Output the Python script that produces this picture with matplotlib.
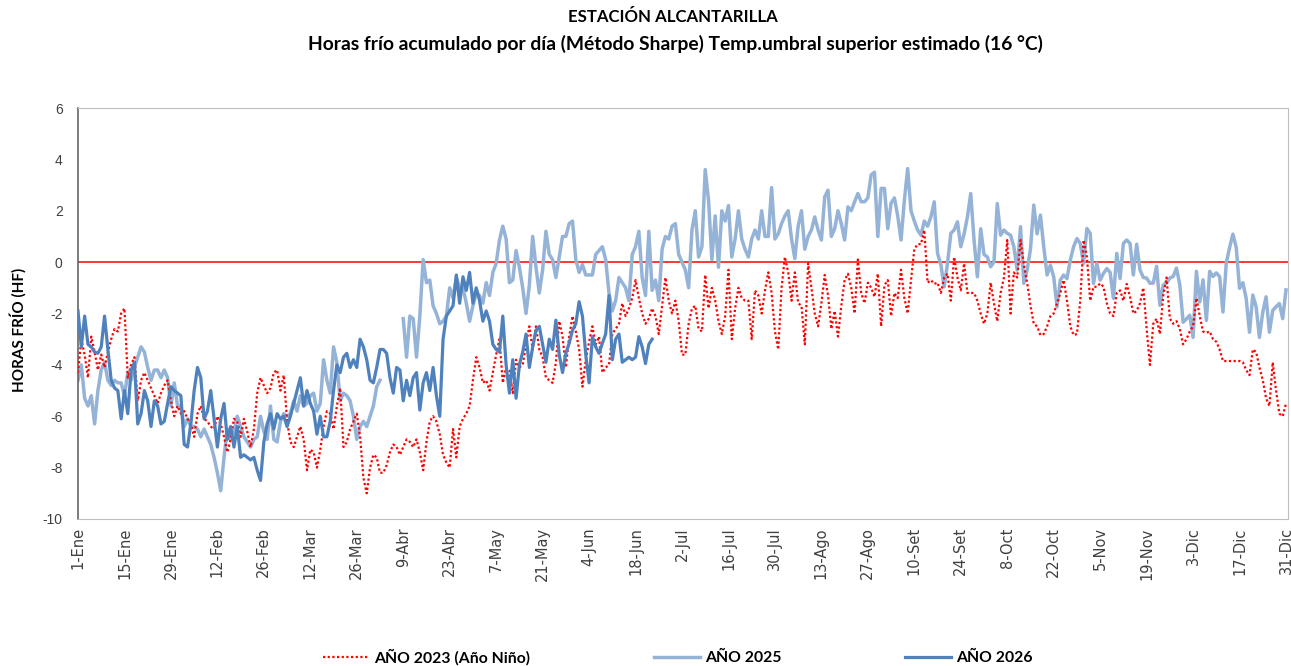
import numpy as np
import matplotlib
matplotlib.use("Agg")
import matplotlib.pyplot as plt

nan = np.nan

# ---------------- data ----------------
tick_labels = ["1-Ene", "15-Ene", "29-Ene", "12-Feb", "26-Feb", "12-Mar", "26-Mar",
               "9-Abr", "23-Abr", "7-May", "21-May", "4-Jun", "18-Jun", "2-Jul",
               "16-Jul", "30-Jul", "13-Ago", "27-Ago", "10-Set", "24-Set", "8-Oct",
               "22-Oct", "5-Nov", "19-Nov", "3-Dic", "17-Dic", "31-Dic"]
y_ticks = [6, 4, 2, 0, -2, -4, -6, -8, -10]

serie_2023 = [
    -4.3, -3.0, -3.6, -4.5, -2.9, -3.5, -4.2, -3.6, -4.1, -3.5,
    -3.0, -2.6, -2.7, -2.0, -1.8, -4.5, -4.0, -3.7, -5.4, -4.6,
    -4.3, -4.6, -4.9, -5.2, -5.5, -5.1, -4.8, -4.6, -5.4, -6.0,
    -5.6, -5.9, -5.8, -6.1, -6.3, -6.8, -5.9, -5.6, -6.1, -6.2,
    -6.4, -6.5, -6.0, -6.3, -6.8, -7.4, -6.9, -6.1, -6.2, -6.8,
    -6.1, -6.6, -7.2, -6.5, -5.1, -4.5, -4.8, -5.1, -4.9, -4.3,
    -4.2, -5.0, -4.4, -6.2, -7.0, -7.2, -6.8, -6.4, -6.9, -8.1,
    -7.3, -7.4, -8.0, -7.3, -6.4, -5.8, -5.9, -6.5, -5.6, -4.9,
    -7.2, -7.0, -6.5, -6.2, -5.9, -6.8, -8.4, -9.0, -8.0, -7.5,
    -7.6, -8.2, -8.2, -7.9, -7.4, -7.1, -7.2, -7.5, -7.2, -6.9,
    -7.0, -7.2, -6.9, -7.4, -8.1, -7.0, -6.2, -6.0, -6.2, -6.7,
    -7.5, -7.8, -8.0, -6.5, -7.6, -6.4, -6.1, -5.9, -5.6, -4.6,
    -3.7, -4.1, -4.7, -4.6, -5.0, -4.3, -3.6, -3.0, -4.7, -4.1,
    -4.2, -5.1, -3.8, -4.1, -4.0, -3.2, -2.5, -3.4, -2.5, -3.4,
    -3.7, -4.5, -4.6, -4.7, -3.9, -2.3, -2.9, -4.1, -2.9, -2.1,
    -2.7, -3.4, -4.85, -3.8, -3.1, -2.5, -3.2, -2.9, -4.3, -4.1,
    -4.0, -2.8, -2.6, -2.4, -1.6, -2.1, -1.8, -1.4, -0.7, -1.4,
    -2.0, -2.4, -2.2, -1.8, -2.1, -2.8, -1.7, -0.6, -1.5, -2.0,
    -1.5, -2.3, -3.6, -3.6, -2.4, -1.8, -1.7, -2.6, -2.7, -0.5,
    -1.8, -1.0, -1.5, -2.3, -2.8, -2.1, -0.3, -3.0, -1.8, -1.0,
    -1.4, -1.5, -1.5, -3.0, -1.1, -1.3, -2.0, -1.1, -0.4, -1.2,
    -2.7, -3.4, -1.0, 0.2, -0.4, -1.5, -0.4, -1.6, -1.7, -3.2,
    -0.05, -1.0, -2.0, -2.5, -1.6, -0.5, -1.3, -2.6, -1.9, -2.9,
    -1.7, -0.7, -0.45, -1.0, -2.0, 0.1, -1.2, -1.6, -0.8, -1.0,
    -1.35, -0.45, -2.5, -0.9, -0.7, -2.1, -1.2, -1.4, -0.3, -1.4,
    -2.0, -0.7, 0.5, 0.7, 0.7, 1.25, -0.8, -0.7, -0.85, -0.8,
    -1.2, -0.6, -0.45, -1.5, 0.2, -0.6, -1.1, -0.05, -1.2, -1.2,
    -1.2, -1.5, -2.0, -2.4, -2.0, -0.8, -1.6, -2.3, -1.2, -0.6,
    0.86, -2.0, -0.4, -0.6, 0.86, -0.1, -0.8, -1.7, -2.4, -2.5,
    -2.84, -2.8, -2.5, -2.1, -2.0, -1.6, -1.2, -0.7, -1.5, -2.5,
    -2.84, -2.8, -1.5, 0.86, 0.2, -1.5, -0.96, -0.96, -0.83, -0.96,
    -1.6, -2.0, -2.1, -1.2, -1.1, -1.5, -0.85, -1.35, -2.0, -1.9,
    -1.6, -1.0, -2.6, -4.0, -2.4, -2.2, -2.8, -1.3, -0.6, -2.2,
    -2.4, -2.3, -2.6, -3.2, -3.0, -2.7, -2.5, -1.4, -2.1, -2.7,
    -2.75, -2.7, -3.0, -3.1, -3.4, -3.85, -3.85, -3.85, -3.85, -3.85,
    -3.85, -3.9, -4.2, -4.4, -3.4, -3.5, -4.1, -4.6, -5.3, -5.6,
    -3.9, -5.0, -5.9, -6.0, -5.5,
]

serie_2025 = [
    -4.6, -4.0, -5.3, -5.6, -5.2, -6.3, -5.0, -4.2, -3.9, -4.6,
    -4.8, -4.6, -4.7, -4.7, -5.2, -4.3, -4.6, -4.1, -3.7, -3.3,
    -3.5, -4.1, -4.6, -4.2, -4.2, -4.5, -4.2, -4.5, -5.6, -4.7,
    -5.6, -5.6, -6.4, -6.1, -6.4, -6.4, -6.5, -6.8, -6.5, -6.8,
    -7.1, -7.6, -8.2, -8.9, -7.6, -6.5, -6.9, -6.6, -6.0, -6.4,
    -6.8, -7.0, -7.2, -6.9, -6.8, -6.0, -6.6, -6.9, -5.6, -6.9,
    -7.0, -6.2, -5.9, -6.0, -5.9, -5.4, -5.8, -5.2, -5.6, -5.5,
    -5.2, -5.1, -5.8, -5.5, -3.8, -4.6, -5.1, -3.3, -3.9, -5.4,
    -5.1, -5.2, -5.4, -6.0, -6.9, -6.4, -6.2, -6.4, -6.0, -5.6,
    -4.85, -4.6, nan, nan, nan, nan, nan, nan, -2.2, -3.7,
    -2.1, -2.2, -3.7, -2.1, 0.1, -0.8, -0.7, -1.7, -2.0, -2.4,
    -2.3, -2.1, -1.0, -1.4, -0.6, -1.0, -1.0, -1.6, -2.3, -1.7,
    -1.2, -1.3, -1.6, -0.8, -1.3, -0.4, -0.05, 0.86, 1.4, 0.9,
    -0.8, -0.7, 0.45, -0.2, -1.0, -2.0, -0.9, 1.0, -0.2, -1.2,
    -0.3, 1.2, 0.3, 0.1, -0.6, 0.2, 1.0, 1.0, 1.5, 1.6,
    0.1, -0.4, -0.1, -0.5, -0.5, -0.5, 0.3, 0.45, 0.6, 0.1,
    -1.2, -1.9, -1.5, -0.6, -0.8, -1.0, -1.5, 0.3, 0.6, 1.2,
    -0.6, -1.3, 1.2, -1.1, -0.7, -1.5, 0.5, 1.0, 0.9, 1.4,
    1.5, 0.3, 0.0, -0.3, -1.0, 1.25, 2.0, 0.2, 0.6, 3.6,
    2.4, 0.1, 1.8, -0.2, 2.0, 1.6, 2.2, 0.2, 0.9, 2.0,
    0.9, 0.5, 0.2, 0.9, 1.25, 0.9, 2.0, 1.0, 1.0, 2.9,
    0.9, 1.1, 1.5, 1.8, 2.0, 0.9, 0.14, 1.4, 2.0, 0.5,
    1.0, 1.25, 1.76, 1.25, 0.86, 2.54, 2.8, 1.0, 1.3, 2.0,
    1.5, 0.86, 2.15, 2.0, 2.35, 2.67, 2.35, 2.35, 2.5, 3.4,
    3.5, 1.0, 2.87, 2.87, 1.3, 2.3, 2.5, 1.8, 0.86, 2.4,
    3.64, 2.0, 1.6, 1.25, 1.05, 1.6, 1.4, 1.76, 2.35, 0.34,
    -0.1, -0.96, -0.05, 1.12, 1.25, 1.57, 0.6, 1.1, 1.76, 2.67,
    0.86, -0.57, 1.3, 0.3, 0.2, -0.18, 0.0, 2.28, 1.05, 1.25,
    1.12, 1.05, 0.6, -0.31, 1.38, -0.83, -0.3, 0.5, 2.22, 1.1,
    1.83, 0.6, -0.5, -0.12, -0.57, -1.74, -0.7, -0.5, -0.64, 0.08,
    0.6, 0.92, 0.73, -0.05, 1.31, 1.12, -0.83, -0.05, -0.7, -0.44,
    -0.25, -0.4, -1.41, 0.34, -0.64, 0.73, 0.86, 0.73, -0.5, 0.7,
    -0.3, -0.6, -0.62, -0.82, -0.82, -0.16, -1.68, -0.89, -0.82, -0.62,
    -0.56, -0.23, -0.89, -2.34, -2.21, -2.07, -2.93, -0.36, -1.55, -0.69,
    -2.27, -0.36, -0.56, -0.42, -0.56, -1.94, -0.03, 0.57, 1.09, 0.57,
    -1.02, -0.8, -1.41, -2.73, -1.28, -1.74, -2.93, -1.94, -1.35, -2.73,
    -1.88, -1.74, -1.61, -2.2, -1.08,
]

serie_2026 = [
    -1.9, -3.3, -2.1, -3.2, -3.3, -3.5, -3.55, -3.3, -2.1, -3.4,
    -4.6, -4.9, -5.0, -6.1, -5.0, -5.9, -4.2, -3.9, -6.3, -5.9,
    -5.0, -5.4, -6.4, -5.4, -5.6, -6.3, -6.2, -5.5, -4.85, -5.0,
    -5.1, -5.2, -7.1, -7.2, -6.3, -5.0, -4.1, -4.5, -6.1, -5.8,
    -5.0, -6.1, -7.2, -6.1, -5.5, -6.9, -6.4, -7.2, -6.4, -7.6,
    -7.5, -7.6, -7.7, -7.6, -8.1, -8.5, -7.0, -6.3, -5.9, -6.5,
    -5.9, -6.1, -6.0, -6.4, -6.0, -5.5, -5.0, -4.5, -5.6, -5.0,
    -5.5, -5.8, -6.7, -6.0, -6.8, -6.8, -6.2, -5.0, -4.0, -4.3,
    -3.7, -3.55, -4.1, -3.8, -4.1, -3.0, -3.3, -3.8, -4.6, -4.7,
    -4.1, -3.4, -3.4, -3.55, -4.5, -5.1, -4.1, -4.2, -5.4, -4.6,
    -5.2, -4.5, -4.3, -5.76, -4.7, -4.3, -5.0, -4.1, -5.2, -6.0,
    -3.0, -2.1, -1.9, -1.7, -0.5, -1.6, -0.57, -1.1, -0.4, -1.6,
    -1.0, -1.5, -2.3, -1.9, -2.3, -3.2, -3.4, -3.5, -2.1, -4.0,
    -5.1, -3.8, -5.3, -4.0, -3.5, -2.8, -4.1, -3.3, -2.65, -2.5,
    -3.2, -3.9, -3.0, -3.4, -2.26, -3.6, -4.3, -3.55, -3.16, -2.65,
    -2.4, -1.54, -2.1, -3.6, -4.7, -2.9, -3.3, -3.55, -3.16, -2.8,
    -1.3, -3.8, -3.0, -2.8, -3.9, -3.8, -3.7, -3.8, -3.7, -2.9,
    -3.3, -3.95, -3.2, -3.0,
]

labels_series = ["AÑO 2023 (Año Niño)", "AÑO 2025", "AÑO 2026"]
title_1 = "ESTACIÓN ALCANTARILLA"
title_2 = "Horas frío acumulado por día (Método Sharpe) Temp.umbral superior estimado (16 °C)"
y_label = "HORAS FRÍO (HF)"

# ---------------- figure ----------------
W, H = 1291, 666
fig = plt.figure(figsize=(W / 100, H / 100), dpi=100)
L, R, T, B = 78, 1288, 108, 519
ax = fig.add_axes([L / W, 1 - B / H, (R - L) / W, (B - T) / H])

x23 = np.arange(len(serie_2023))
x25 = np.arange(len(serie_2025))
x26 = np.arange(len(serie_2026))

ax.axhline(0, color="#FF0000", lw=1.1, zorder=1)
l23, = ax.plot(x23, serie_2023, color="#FF0000", lw=1.6, linestyle=(0, (1, 1.1)),
               dash_capstyle="butt", zorder=3)
l25, = ax.plot(x25, serie_2025, color="#95B3D7", lw=2.5, zorder=2,
               solid_joinstyle="round")
l26, = ax.plot(x26, serie_2026, color="#4F81BD", lw=2.3, zorder=4,
               solid_joinstyle="round")

ax.set_xlim(0, 364.6)
ax.set_ylim(-10, 6)
ax.set_xticks(np.arange(0, 365, 14))
ax.set_xticklabels(tick_labels, rotation=90, fontsize=10.5, family="DejaVu Sans",
                   color="#404040", va="top", ha="center")
ax.set_yticks(y_ticks)
ax.set_yticklabels([str(v) for v in y_ticks], fontsize=10, family="Liberation Sans",
                   color="#404040")
ax.tick_params(axis="both", length=0)
ax.tick_params(axis="x", pad=6)
ax.tick_params(axis="y", pad=11)

for s in ["top", "right", "bottom"]:
    ax.spines[s].set_color("#BFBFBF")
    ax.spines[s].set_linewidth(0.8)
ax.spines["left"].set_color("#595959")
ax.spines["left"].set_linewidth(1.1)

title_font = "Lato"
fig.canvas.draw()
renderer = fig.canvas.get_renderer()


def fit_text(xc, yc, s, target_w, size0, **kw):
    t = fig.text(xc / W, 1 - yc / H, s, ha="center", va="center", fontsize=size0, **kw)
    bb = t.get_window_extent(renderer)
    t.set_fontsize(size0 * target_w / bb.width)
    return t


fit_text(673, 17, title_1, 210, 11, family=title_font, fontweight="bold", color="black")
fit_text(675, 44, title_2, 733, 11, family=title_font, fontweight="bold", color="black")

fig.text(18 / W, 1 - 330 / H, y_label, rotation=90, ha="center", va="center",
         fontsize=11, family=title_font, fontweight="bold", color="black")

leg = fig.legend([l23, l25, l26], labels_series, loc="center", ncol=3,
                 bbox_to_anchor=(678 / W, 1 - 657 / H), frameon=False,
                 prop={"family": title_font, "weight": "bold", "size": 11.3},
                 handlelength=2.9, handletextpad=0.35, columnspacing=7.9,
                 borderpad=0, borderaxespad=0)

fig.savefig("out.png", dpi=100, facecolor="white")
